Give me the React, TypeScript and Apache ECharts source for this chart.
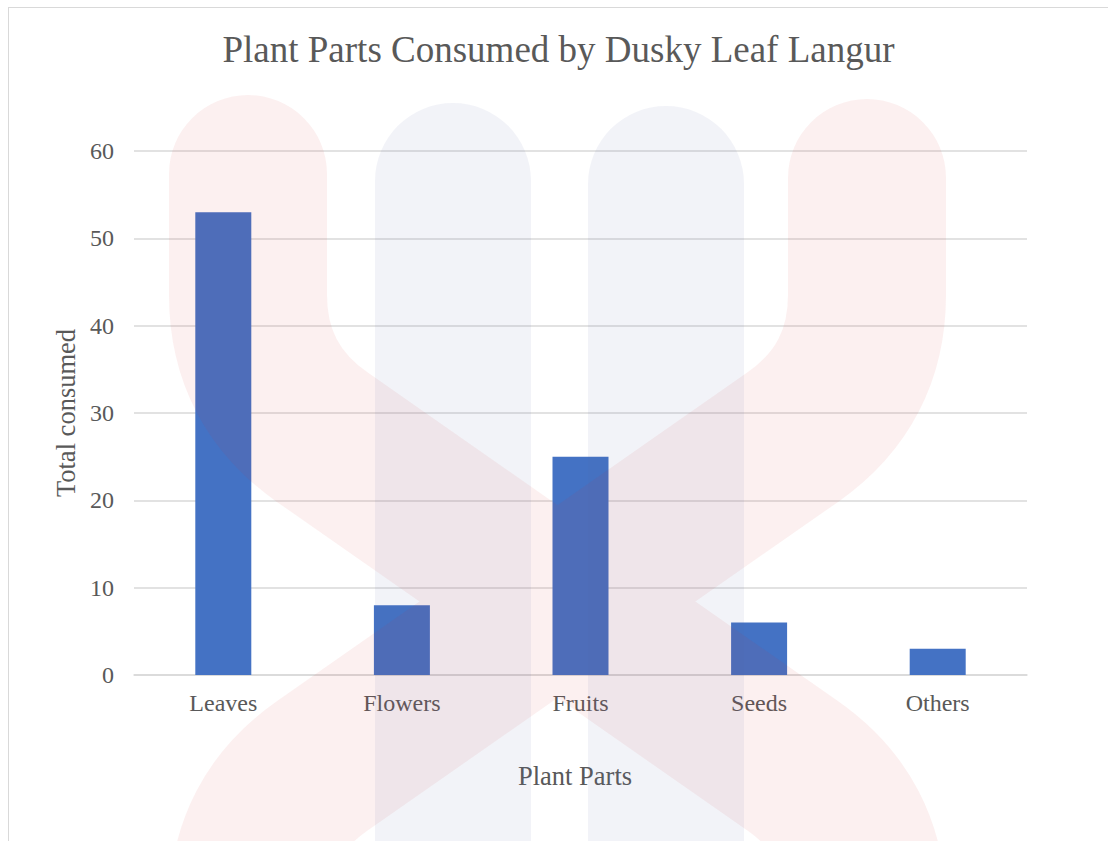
import React, { useEffect, useRef } from "react";
import * as echarts from "echarts";

// ---- data ----
const categories: string[] = ["Leaves", "Flowers", "Fruits", "Seeds", "Others"];
const totals: number[] = [53, 8, 25, 6, 3];
const yMin = 0;
const yMax = 60;
const yInterval = 10;

const TITLE = "Plant Parts Consumed by Dusky Leaf Langur";
const X_NAME = "Plant Parts";
const Y_NAME = "Total consumed";

// ---- decorative watermark (background logo) ----
const RED_PATH =
  "M248 174 L248 295 Q248 385 322 437 L793 766 Q867 818 867 908 L867 1000 " +
  "M867 178 L867 295 Q867 385 793 437 L322 766 Q248 818 248 908 L248 1000";
const BLUE_PATH = "M453 181 L453 1000 M666 184 L666 1000";

echarts.graphic.registerShape("wmRed", echarts.graphic.extendPath(RED_PATH, {}));
echarts.graphic.registerShape("wmBlue", echarts.graphic.extendPath(BLUE_PATH, {}));

const FONT = "'Liberation Serif', 'Times New Roman', serif";
const TEXT_COLOR = "#595959";
const GRID_COLOR = "#d9d9d9";

export default function App() {
  const ref = useRef<HTMLDivElement>(null);

  useEffect(() => {
    document.documentElement.style.overflow = "hidden";
    document.body.style.overflow = "hidden";
    if (!ref.current) return;
    const chart = echarts.init(ref.current, null, { renderer: "svg" });
    chart.setOption({
      animation: false,
      backgroundColor: "#ffffff",
      textStyle: { fontFamily: FONT },
      title: {
        text: TITLE,
        left: "center",
        top: 23,
        padding: 0,
        textStyle: {
          fontFamily: FONT,
          fontSize: 37,
          fontWeight: "normal",
          color: TEXT_COLOR,
        },
      },
      grid: { left: 125, right: 81, top: 143, bottom: 166, containLabel: false },
      xAxis: {
        type: "category",
        data: categories,
        axisTick: { show: false },
        axisLine: { show: true, lineStyle: { color: GRID_COLOR, width: 1.5 } },
        axisLabel: { fontFamily: FONT, fontSize: 24, color: TEXT_COLOR, margin: 16 },
        name: X_NAME,
        nameLocation: "middle",
        nameGap: 87,
        nameTextStyle: {
          fontFamily: FONT,
          fontSize: 26.5,
          color: TEXT_COLOR,
          padding: [0, 11, 0, 0],
        },
      },
      yAxis: {
        type: "value",
        min: yMin,
        max: yMax,
        interval: yInterval,
        axisLine: { show: false },
        axisTick: { show: false },
        axisLabel: { fontFamily: FONT, fontSize: 24, color: TEXT_COLOR, margin: 20 },
        splitLine: { show: true, lineStyle: { color: GRID_COLOR, width: 1.5 } },
        name: Y_NAME,
        nameLocation: "middle",
        nameGap: 55,
        nameTextStyle: { fontFamily: FONT, fontSize: 26.5, color: TEXT_COLOR },
      },
      series: [
        {
          type: "bar",
          data: totals,
          barWidth: 56,
          itemStyle: { color: "#4472C4" },
        },
      ],
      graphic: [
        {
          type: "wmRed",
          x: -9,
          y: -8,
          z: 100,
          silent: true,
          style: {
            fill: "none",
            stroke: "rgba(220,60,60,0.075)",
            lineWidth: 158,
            lineCap: "round",
            lineJoin: "round",
          },
        },
        {
          type: "wmBlue",
          x: -9,
          y: -8,
          z: 100,
          silent: true,
          style: {
            fill: "none",
            stroke: "rgba(90,105,160,0.08)",
            lineWidth: 156,
            lineCap: "round",
            lineJoin: "round",
          },
        },
      ],
    });
    return () => chart.dispose();
  }, []);

  return (
    <div
      style={{
        position: "absolute",
        left: 8,
        top: 7,
        width: 1100,
        height: 834,
        boxSizing: "border-box",
        borderTop: "1px solid #d9d9d9",
        borderLeft: "1px solid #d9d9d9",
        background: "#ffffff",
      }}
    >
      <div ref={ref} style={{ width: 1099, height: 833 }} />
    </div>
  );
}
